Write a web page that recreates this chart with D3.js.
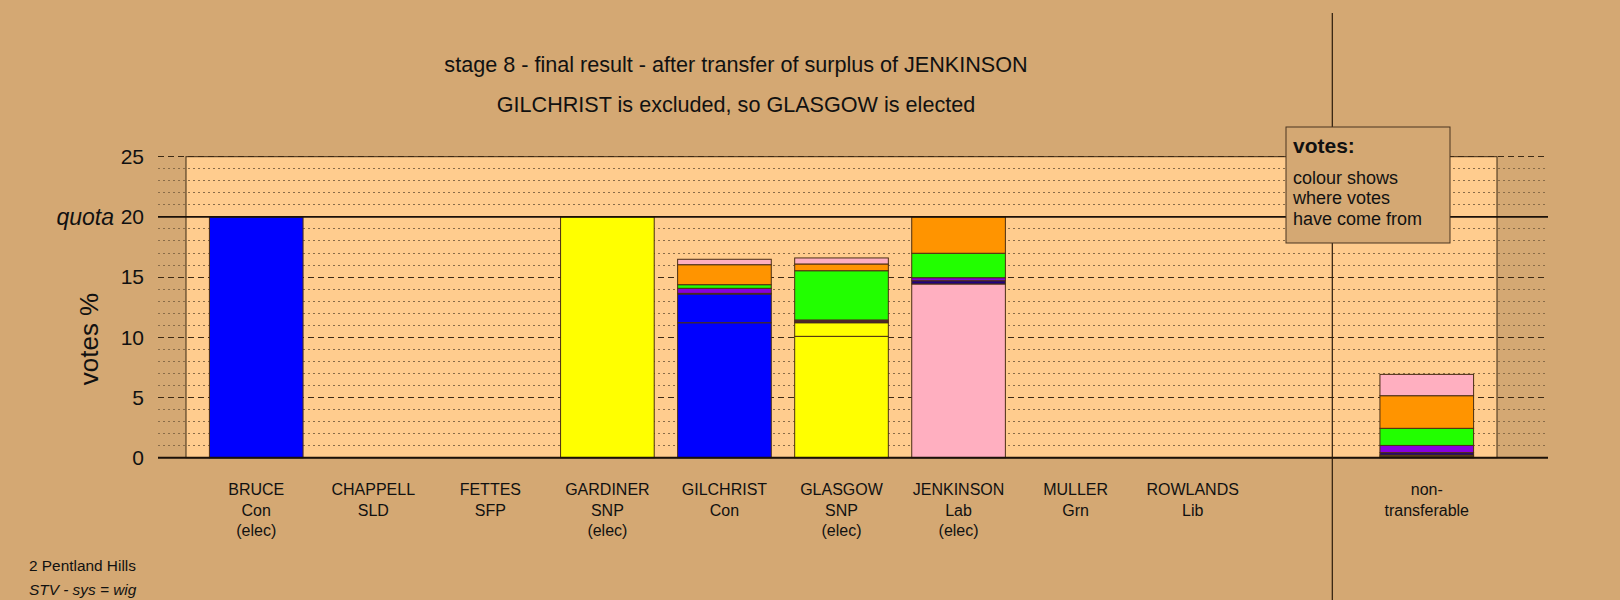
<!DOCTYPE html>
<html><head><meta charset="utf-8">
<script src="https://cdn.jsdelivr.net/npm/d3@7"></script>
<style>
html,body{margin:0;padding:0;background:#D4A873;}
svg{display:block;font-family:"Liberation Sans",Arial,sans-serif;}
</style></head>
<body>
<script>
// ---- data ----
const candidates = ["BRUCE","CHAPPELL","FETTES","GARDINER","GILCHRIST","GLASGOW","JENKINSON","MULLER","ROWLANDS","","non-"];
const parties    = ["Con","SLD","SFP","SNP","Con","SNP","Lab","Grn","Lib","","transferable"];
const status     = ["(elec)","","","(elec)","","(elec)","(elec)","","","",""];
const ownColours = ["blue","purple","navy","yellow","blue","yellow","pink","green","orange","none","none"];
// vote layers (% of votes), stacked in this order
const firstPrefs   = [20, 0, 0, 20, 11.21, 10.08, 14.43, 0, 0, 0, 0];
const fromBruce    = [0, 0, 0, 0, 2.39, 0, 0, 0, 0, 0, 0.12];
const fromGardiner = [0, 0, 0, 0, 0, 1.13, 0, 0, 0, 0, 0.10];
const fromFettes   = [0, 0, 0, 0, 0.05, 0.13, 0.27, 0, 0, 0, 0.20];
const fromChappell = [0, 0, 0, 0, 0.42, 0.10, 0.25, 0, 0, 0, 0.60];
const fromMuller   = [0, 0, 0, 0, 0.30, 4.09, 2.03, 0, 0, 0, 1.42];
const fromRowlands = [0, 0, 0, 0, 1.66, 0.56, 3.02, 0, 0, 0, 2.71];
const fromJenkinson= [0, 0, 0, 0, 0.45, 0.50, 0, 0, 0, 0, 1.77];
const yTicks = [0, 5, 10, 15, 20, 25];
const quota = 20;
const titleLines = ["stage 8 - final result - after transfer of surplus of JENKINSON",
                    "GILCHRIST is excluded, so GLASGOW is elected"];
const legendLines = ["colour shows","where votes","have come from"];

const palette = {blue:"#0000FF", yellow:"#FFFF00", pink:"#FFAFC0", orange:"#FF9400",
                 green:"#22FF00", purple:"#8800DD", navy:"#200080"};
const layers = [
  {vals:firstPrefs, colour:null},
  {vals:fromBruce, colour:"blue"},
  {vals:fromGardiner, colour:"yellow"},
  {vals:fromFettes, colour:"navy"},
  {vals:fromChappell, colour:"purple"},
  {vals:fromMuller, colour:"green"},
  {vals:fromRowlands, colour:"orange"},
  {vals:fromJenkinson, colour:"pink"}
];

// ---- drawing ----
const W = 1620, H = 600;
const BG = "#D4A873", PLOT = "#FFCC8E", INK = "#3d2a14";
const svg = d3.select("body").append("svg").attr("width", W).attr("height", H);
svg.append("rect").attr("width", W).attr("height", H).attr("fill", BG);

const plotL = 186, plotR = 1497, lineL = 158, lineR = 1548;
const y = d3.scaleLinear().domain([0, 25]).range([457.7, 156.7]);
const x = d3.scaleBand().domain(candidates.map((d, i) => i)).range([plotL, plotR])
  .paddingInner(0.2).paddingOuter(0.2);

// plot box fill
svg.append("rect").attr("x", plotL).attr("y", y(25)).attr("width", plotR - plotL)
  .attr("height", y(0) - y(25)).attr("fill", PLOT);

// grid
const minor = d3.range(1, 25).filter(v => v % 5 !== 0);
svg.append("g").selectAll("line").data(minor).join("line")
  .attr("x1", lineL).attr("x2", lineR).attr("y1", d => y(d)).attr("y2", d => y(d))
  .attr("stroke", "#8a6c48").attr("stroke-width", 1).attr("stroke-dasharray", "2,3")
  .attr("shape-rendering", "crispEdges");
svg.append("g").selectAll("line").data([5, 10, 15, 25]).join("line")
  .attr("x1", lineL).attr("x2", lineR).attr("y1", d => y(d)).attr("y2", d => y(d))
  .attr("stroke", INK).attr("stroke-width", 1).attr("stroke-dasharray", "6,4")
  .attr("shape-rendering", "crispEdges");

// plot box outline
svg.append("rect").attr("x", plotL).attr("y", y(25)).attr("width", plotR - plotL)
  .attr("height", y(0) - y(25)).attr("fill", "none").attr("stroke", INK).attr("stroke-width", 1);

// stacked bars
const segs = [];
candidates.forEach((c, i) => {
  let base = 0;
  layers.forEach(L => {
    const v = L.vals[i];
    if (v > 0) {
      const col = L.colour || ownColours[i];
      segs.push({i, y0: base, y1: base + v, fill: palette[col]});
    }
    base += v;
  });
});
svg.append("g").selectAll("rect").data(segs).join("rect")
  .attr("x", d => x(d.i)).attr("width", x.bandwidth())
  .attr("y", d => y(d.y1)).attr("height", d => y(d.y0) - y(d.y1))
  .attr("fill", d => d.fill).attr("stroke", "#4a2e12").attr("stroke-width", 1);

// zero and quota lines
svg.append("line").attr("x1", lineL).attr("x2", lineR).attr("y1", y(0)).attr("y2", y(0))
  .attr("stroke", "#1a1008").attr("stroke-width", 2);
svg.append("line").attr("x1", lineL).attr("x2", lineR).attr("y1", y(quota)).attr("y2", y(quota))
  .attr("stroke", "#1a1008").attr("stroke-width", 1.6);

// y axis labels
const yAxis = svg.append("g").attr("transform", `translate(${lineL},0)`)
  .call(d3.axisLeft(y).tickValues(yTicks).tickSize(0).tickPadding(14).tickFormat(d3.format("d")));
yAxis.select(".domain").remove();
yAxis.selectAll("text").attr("font-size", 21).attr("fill", "#111")
  .attr("font-family", "'Liberation Sans',Arial,sans-serif");
svg.append("text").attr("x", 114).attr("y", y(quota)).attr("dy", "0.35em")
  .attr("text-anchor", "end").attr("font-size", 23).attr("font-style", "italic")
  .attr("fill", "#111").text("quota");
svg.append("text").attr("transform", "translate(98,339) rotate(-90)")
  .attr("text-anchor", "middle").attr("font-size", 26).attr("fill", "#111").text("votes %");

// x axis labels
const xAxis = svg.append("g").attr("transform", `translate(0,${y(0)})`)
  .call(d3.axisBottom(x).tickSize(0).tickFormat(""));
xAxis.select(".domain").remove();
xAxis.selectAll(".tick").each(function(d) {
  const t = d3.select(this).append("text").attr("fill", "#111").attr("font-size", 16)
    .attr("text-anchor", "middle");
  [candidates[d], parties[d], status[d]].forEach((s, k) => {
    if (s) t.append("tspan").attr("x", 0).attr("y", 37.5 + k * 20.6).text(s);
  });
});

// divider line
const step = x.step();
const divX = x(9) + x.bandwidth() / 2 + step * 0.193;
svg.append("line").attr("x1", divX).attr("x2", divX).attr("y1", 13).attr("y2", H)
  .attr("stroke", "#2a1a0a").attr("stroke-width", 1.2);

// titles
svg.append("g").selectAll("text").data(titleLines).join("text")
  .attr("x", 736).attr("y", (d, k) => 72 + k * 40).attr("text-anchor", "middle")
  .attr("font-size", 21.6).attr("fill", "#111").text(d => d);

// legend box
svg.append("rect").attr("x", 1286).attr("y", 127).attr("width", 164).attr("height", 116)
  .attr("fill", BG).attr("stroke", "#4a3520").attr("stroke-width", 1);
svg.append("text").attr("x", 1293).attr("y", 152.5).attr("font-size", 21).attr("font-weight", "bold")
  .attr("fill", "#111").text("votes:");
svg.append("g").selectAll("text").data(legendLines).join("text")
  .attr("x", 1293).attr("y", (d, k) => 183.5 + k * 20.8).attr("font-size", 18)
  .attr("fill", "#111").text(d => d);

// footer
svg.append("text").attr("x", 29).attr("y", 571).attr("font-size", 15.4).attr("fill", "#111").text("2 Pentland Hills");
svg.append("text").attr("x", 29).attr("y", 595).attr("font-size", 15.4).attr("font-style", "italic")
  .attr("fill", "#111").text("STV - sys = wig");
</script>
</body></html>
